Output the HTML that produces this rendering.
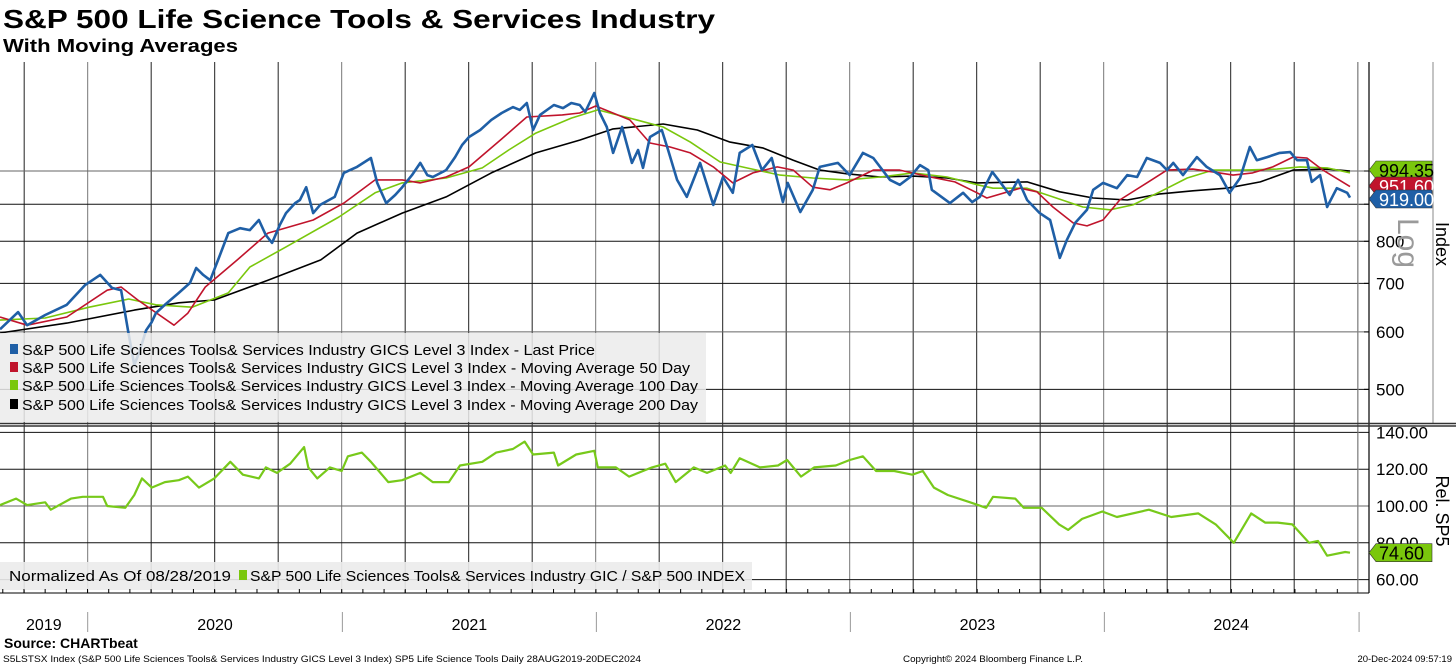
<!DOCTYPE html>
<html><head><meta charset="utf-8"><style>
html,body{margin:0;padding:0;background:#fff;}
svg{display:block;font-family:"Liberation Sans","DejaVu Sans",sans-serif;}
</style></head><body>
<svg id="chart" width="1456" height="666" viewBox="0 0 1456 666" xmlns="http://www.w3.org/2000/svg">
<text x="3" y="28" font-size="26" font-weight="bold" textLength="712" lengthAdjust="spacingAndGlyphs">S&amp;P 500 Life Science Tools &amp; Services Industry</text>
<text x="3" y="52" font-size="18" font-weight="bold" textLength="235" lengthAdjust="spacingAndGlyphs">With Moving Averages</text>
<g id="grid"></g>
<defs>
<clipPath id="ctop"><rect x="0" y="62" width="1366" height="361"/></clipPath>
<clipPath id="cbot"><rect x="0" y="427" width="1366" height="166"/></clipPath>
</defs>
<g id="series"></g>
<g>
<rect x="0" y="333" width="706" height="89" fill="#ebebeb" fill-opacity="0.85"/>
<rect x="10" y="344" width="8" height="10" fill="#1f5fa6"/>
<text x="22" y="355" font-size="15" textLength="573" lengthAdjust="spacingAndGlyphs">S&amp;P 500 Life Sciences Tools&amp; Services Industry GICS Level 3 Index - Last Price</text>
<rect x="10" y="362" width="8" height="10" fill="#c0142c"/>
<text x="22" y="373" font-size="15" textLength="668" lengthAdjust="spacingAndGlyphs">S&amp;P 500 Life Sciences Tools&amp; Services Industry GICS Level 3 Index - Moving Average 50 Day</text>
<rect x="10" y="380" width="8" height="10" fill="#7ac70c"/>
<text x="22" y="391" font-size="15" textLength="676" lengthAdjust="spacingAndGlyphs">S&amp;P 500 Life Sciences Tools&amp; Services Industry GICS Level 3 Index - Moving Average 100 Day</text>
<rect x="10" y="399" width="8" height="10" fill="#000"/>
<text x="22" y="410" font-size="15" textLength="676" lengthAdjust="spacingAndGlyphs">S&amp;P 500 Life Sciences Tools&amp; Services Industry GICS Level 3 Index - Moving Average 200 Day</text>
</g>
<g>
<rect x="0" y="562" width="752" height="28" fill="#ebebeb" fill-opacity="0.9"/>
<text x="9" y="581" font-size="15" textLength="222" lengthAdjust="spacingAndGlyphs">Normalized As Of 08/28/2019</text>
<rect x="239" y="570" width="8" height="10" fill="#7ac70c"/>
<text x="250" y="581" font-size="15" textLength="495" lengthAdjust="spacingAndGlyphs">S&amp;P 500 Life Sciences Tools&amp; Services Industry GIC / S&amp;P 500 INDEX</text>
</g>
<g id="axes"></g>
<text transform="translate(1398,243) rotate(90)" font-size="30" fill="#9a9a9a" text-anchor="middle">Log</text>
<text transform="translate(1436,244) rotate(90)" font-size="18" text-anchor="middle">Index</text>
<text transform="translate(1436,511) rotate(90)" font-size="18" text-anchor="middle">Rel. SP5</text>
<g id="tags"></g>
<text x="4" y="648" font-size="14" font-weight="bold">Source: CHARTbeat</text>
<text x="3" y="662" font-size="9.5" textLength="638" lengthAdjust="spacingAndGlyphs">S5LSTSX Index (S&amp;P 500 Life Sciences Tools&amp; Services Industry GICS Level 3 Index) SP5 Life Science Tools  Daily 28AUG2019-20DEC2024</text>
<text x="903" y="662" font-size="9.5" textLength="180" lengthAdjust="spacingAndGlyphs">Copyright© 2024 Bloomberg Finance L.P.</text>
<text x="1452" y="662" font-size="9.5" text-anchor="end">20-Dec-2024 09:57:19</text>
</svg>
<script>
// Days since 2019-08-28 and values
const priceDays=[0,26,39,65,96,122,144,161,174,184,193,201,210,218,224,237,257,273,282,292,302,315,328,345,359,372,382,391,402,411,424,431,440,450,460,481,494,503,513,533,542,555,568,578,592,604,614,622,641,654,664,674,690,706,721,737,747,757,766,776,796,809,821,833,841,854,862,872,881,894,908,917,924,934,951,960,973,987,1006,1025,1039,1053,1063,1081,1095,1109,1125,1132,1150,1168,1178,1204,1221,1240,1255,1279,1293,1308,1322,1334,1339,1365,1384,1397,1408,1426,1437,1451,1463,1476,1494,1509,1523,1533,1545,1562,1571,1585,1605,1620,1634,1648,1667,1677,1686,1700,1720,1734,1753,1767,1782,1796,1806,1821,1839,1854,1864,1878,1885,1897,1907,1921,1936,1940];
const priceVals=[605,639,613,633,654,696,719,690,685,603,540,566,603,619,637,654,679,701,735,719,707,761,821,834,829,856,816,796,842,875,903,912,950,875,898,921,994,1003,1013,1042,963,903,927,950,987,1026,987,981,1003,1045,1086,1114,1139,1176,1202,1225,1214,1241,1139,1195,1233,1221,1241,1233,1206,1281,1202,1150,1059,1150,1026,1069,1010,1114,1139,1069,972,921,1026,898,981,933,1059,1086,1003,1042,906,963,878,942,1013,1026,987,1059,1042,972,957,981,1019,1003,942,903,933,906,921,997,966,927,972,912,875,856,759,803,848,884,942,963,947,987,981,1042,1026,1003,1026,987,1045,1013,987,933,978,1079,1035,1045,1059,1062,1035,1035,966,987,892,947,933,919];
const ma50Days=[0,39,96,154,174,198,250,270,295,341,385,450,494,539,578,604,641,674,719,757,808,833,856,905,934,963,992,1025,1053,1082,1117,1140,1168,1193,1217,1255,1293,1337,1372,1404,1418,1466,1490,1513,1542,1562,1585,1609,1648,1677,1714,1743,1772,1800,1829,1858,1878,1901,1940];
const ma50Vals=[629,613,629,685,692,664,613,637,692,754,821,856,903,972,972,963,981,1013,1103,1187,1195,1202,1229,1176,1093,1079,1059,1013,963,994,1013,1003,950,942,963,1003,1003,981,966,933,918,947,936,892,848,840,856,912,963,1003,1006,997,987,994,1013,1045,1042,1003,951.6];
const ma100Days=[0,65,128,185,224,276,328,359,411,487,539,578,641,693,731,770,821,859,905,953,992,1035,1073,1121,1168,1217,1265,1312,1361,1405,1427,1476,1513,1556,1595,1628,1667,1706,1743,1786,1835,1868,1907,1940];
const ma100Vals=[623,627,649,666,654,649,679,737,786,864,933,963,978,1010,1069,1128,1183,1214,1183,1150,1096,1029,1010,987,978,972,981,994,981,957,947,947,921,892,884,898,936,978,1003,1003,1006,1013,1010,994.35];
const ma200Days=[0,96,193,257,308,385,461,513,578,641,706,770,833,881,953,1002,1049,1096,1140,1178,1217,1265,1312,1361,1404,1476,1523,1571,1620,1667,1714,1763,1811,1858,1907,1940];
const ma200Vals=[598,617,643,658,664,707,754,821,875,921,994,1059,1103,1143,1161,1139,1096,1076,1035,1003,991,981,984,978,963,966,936,918,912,930,939,947,966,1003,1006,1000];
const relDays=[0,23,39,65,73,102,119,148,154,180,193,204,218,237,257,270,286,308,331,349,372,382,398,417,437,443,456,474,491,500,520,533,558,578,604,622,645,661,693,713,737,754,766,796,802,828,854,859,885,904,937,956,971,997,1016,1042,1050,1063,1092,1118,1131,1151,1170,1201,1221,1240,1259,1285,1311,1326,1342,1362,1394,1417,1427,1459,1471,1497,1522,1535,1555,1584,1605,1651,1683,1722,1747,1773,1798,1818,1836,1857,1881,1894,1907,1933,1940];
const relVals=[100.5,104,100.5,102,98,104,105,105,100,99,106,115,110,113,114,116,110,115,124,117,115,121,118,123,132,121,115,121,119,127,129,124,113,114,118,113,113,122,124,129,131,135,128,129,122,128,130,121,121,116,121,123,113,121,118,122,118,126,121,122,125,116,121,122,125,127,119,119,117,119,110,106,102,99,105,104,99,99,90,87,93,97,94,98,94,96,90,80,96,91,91,90,80,81,73,75,74.6];
const topTicks=[500,600,700,800,900,1000];
const botTicks=[60,80,100,120,140];
const yearLabels=["2019","2020","2021","2022","2023","2024"];
const yearStartDays=[0,126,492,857,1222,1587,1953];
const lastTags=[{v:994.35,c:"#7ac70c",t:"#000",n:"tag-ma100"},{v:951.60,c:"#c0142c",t:"#fff",n:"tag-ma50"},{v:919.00,c:"#1f5fa6",t:"#fff",n:"tag-last-price"}];

const NS="http://www.w3.org/2000/svg";
const xS=d=>d*254/365;
const yTop=v=>171-315*Math.log(v/1000);
const yBot=v=>506-(v-100)*1.84;
function mk(tag,attrs,parent){const e=document.createElementNS(NS,tag);for(const k in attrs)e.setAttribute(k,attrs[k]);parent.appendChild(e);return e;}
const grid=document.getElementById('grid'),ser=document.getElementById('series'),axes=document.getElementById('axes'),tags=document.getElementById('tags');

// vertical quarter gridlines
for(let i=0;i<22;i++){const x=xS(126)+63.5*(i-1);if(x<0||x>1366)continue;
 const l=mk('line',{x1:x,x2:x,y1:62,y2:593,stroke:(i%4===1)?'#777':'#222','stroke-width':1},grid);
 
 }
topTicks.forEach(v=>{const y=yTop(v);
 const l=mk('line',{x1:0,x2:1369,y1:y,y2:y,stroke:(v===1000||v===600)?'#666':'#111','stroke-width':1},grid);
 
 
 if(v!==1000&&v!==900){const t=mk('text',{x:1376,y:y+6,'font-size':17},axes);t.textContent=v;
 
 }
 mk('line',{x1:1364,x2:1369,y1:y,y2:y,stroke:'#000'},axes);});
botTicks.forEach(v=>{const y=yBot(v);
 const l=mk('line',{x1:0,x2:1369,y1:y,y2:y,stroke:(v===100)?'#666':'#111','stroke-width':1},grid);
 
 
 const t=mk('text',{x:1376,y:y+6,'font-size':17},axes);t.textContent=v.toFixed(2);
 
 });
// axis lines / panel separators
mk('line',{x1:1369,x2:1369,y1:62,y2:593,stroke:'#000','stroke-width':1.2},axes);
mk('line',{x1:1358,x2:1358,y1:62,y2:593,stroke:'#888','stroke-width':1},axes);
mk('line',{x1:1433,x2:1433,y1:62,y2:423,stroke:'#888','stroke-width':1},axes);
mk('line',{x1:0,x2:1456,y1:423.5,y2:423.5,stroke:'#333','stroke-width':1.5},axes);
mk('line',{x1:0,x2:1456,y1:426,y2:426,stroke:'#333','stroke-width':1.5},axes);
mk('line',{x1:0,x2:1369,y1:593,y2:593,stroke:'#000','stroke-width':1},axes);
for(let d=4;d<1950;d+=30.44){const x=xS(d);mk('line',{x1:x,x2:x,y1:589,y2:593,stroke:'#000'},axes);}
yearLabels.forEach((lab,i)=>{const a=xS(yearStartDays[i]),b=Math.min(xS(yearStartDays[i+1]),1358);
 const t=mk('text',{x:(a+b)/2,y:630,'font-size':16,'text-anchor':'middle'},axes);t.textContent=lab;
 
 
 const sx=xS(yearStartDays[i+1]);mk('line',{x1:sx,x2:sx,y1:612,y2:632,stroke:'#999'},axes);});

function path(days,vals,ys,stroke,w,clip,name){
 const d=days.map((dd,i)=>(i?'L':'M')+xS(dd).toFixed(1)+' '+ys(vals[i]).toFixed(1)).join('');
 const p=mk('path',{d:d,fill:'none',stroke:stroke,'stroke-width':w,'stroke-linejoin':'round','clip-path':'url(#'+clip+')'},ser);
 
 }
path(ma200Days,ma200Vals,yTop,'#000',1.6,'ctop','ma200-line');
path(ma100Days,ma100Vals,yTop,'#7ac70c',1.6,'ctop','ma100-line');
path(ma50Days,ma50Vals,yTop,'#c0142c',1.6,'ctop','ma50-line');
path(priceDays,priceVals,yTop,'#1f5fa6',2.6,'ctop','price-line');
path(relDays,relVals,yBot,'#77c91a',2.2,'cbot','relative-line');

function tag(v,y,c,tc,name){const g=mk('g',{},tags);
 
 
 mk('path',{d:`M1369 ${y} L1376 ${y-9} L1432 ${y-9} L1432 ${y+9} L1376 ${y+9} Z`,fill:c,stroke:'#333','stroke-width':0.6},g);
 const t=mk('text',{x:1379,y:y+7,'font-size':18,fill:tc},g);t.textContent=v.toFixed(2);}
lastTags.forEach(o=>{let y=yTop(o.v);if(o.n==='tag-ma100')y=170;if(o.n==='tag-ma50')y=186;if(o.n==='tag-last-price')y=199;tag(o.v,y,o.c,o.t,o.n);});
tag(74.60,yBot(74.60),'#7ac70c','#000','tag-relative');
</script>
</body></html>
